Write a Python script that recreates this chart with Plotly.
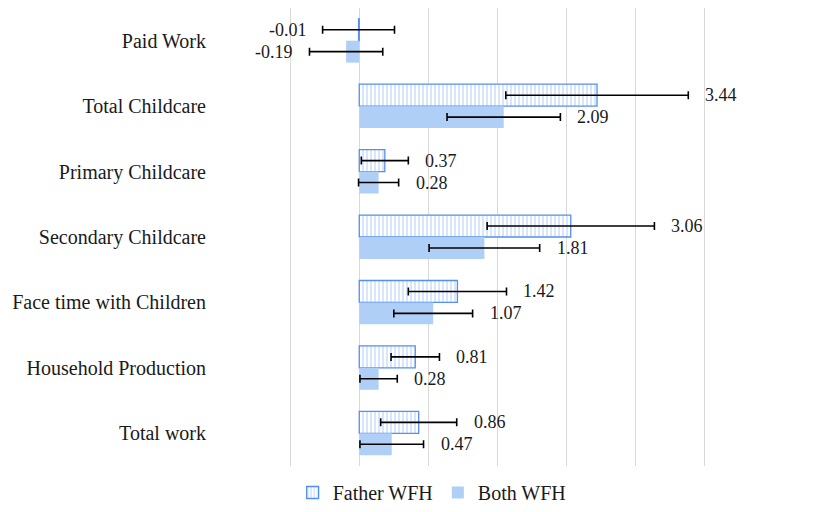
import plotly.graph_objects as go

categories = ["Paid Work", "Total Childcare", "Primary Childcare", "Secondary Childcare",
              "Face time with Children", "Household Production", "Total work"]
father_wfh = [-0.01, 3.44, 0.37, 3.06, 1.42, 0.81, 0.86]
both_wfh = [-0.19, 2.09, 0.28, 1.81, 1.07, 0.28, 0.47]
father_err = [0.52, 1.32, 0.34, 1.21, 0.71, 0.35, 0.55]
both_err = [0.53, 0.82, 0.29, 0.80, 0.57, 0.27, 0.46]

serif = "Liberation Serif"
FS_LAB = 18
FS_AX = 20

fig = go.Figure()
fig.add_trace(go.Bar(
    y=categories, x=father_wfh, orientation="h", name="Father WFH",
    marker=dict(color="white", line=dict(color="#5590EC", width=1.3),
                pattern=dict(shape="|", fgcolor="#A9C9F5", bgcolor="white", size=4, solidity=0.45)),
    error_x=dict(type="data", array=father_err, color="black", thickness=1.6, width=4),
))
fig.add_trace(go.Bar(
    y=categories, x=both_wfh, orientation="h", name="Both WFH",
    marker=dict(color="#B0CFF7", line=dict(width=0)),
    error_x=dict(type="data", array=both_err, color="black", thickness=1.6, width=4),
))

for vals, errs, ysh in [(father_wfh, father_err, 11), (both_wfh, both_err, -11)]:
    for cat, v, e in zip(categories, vals, errs):
        if v >= 0:
            fig.add_annotation(x=v + e, y=cat, text=f"{v:.2f}", showarrow=False,
                               xanchor="left", xshift=15, yshift=ysh,
                               font=dict(family=serif, size=FS_LAB, color="#1a1a1a"))
        else:
            fig.add_annotation(x=v - e, y=cat, text=f"{v:.2f}", showarrow=False,
                               xanchor="right", xshift=-14, yshift=ysh,
                               font=dict(family=serif, size=FS_LAB, color="#1a1a1a"))

fig.update_layout(
    width=830, height=504,
    margin=dict(l=213, r=64, t=0, b=46, autoexpand=False),
    paper_bgcolor="white", plot_bgcolor="white",
    barmode="group", bargap=0.33, bargroupgap=0,
    font=dict(family=serif, size=FS_AX, color="#1a1a1a"),
    legend=dict(orientation="h", xref="container", x=0.511, xanchor="center",
                yref="container", y=0.0, yanchor="bottom",
                font=dict(family=serif, size=FS_AX, color="#1a1a1a"), traceorder="normal",
                itemwidth=30),
    showlegend=True,
)
fig.update_xaxes(range=[-2, 6], dtick=1, showgrid=True, gridcolor="#D9D9D9", gridwidth=1.3,
                 showticklabels=False, zeroline=False, showline=False, ticks="")
fig.update_yaxes(autorange="reversed", showgrid=False, ticks="", ticklabelstandoff=14,
                 showline=False)

fig.write_html("out.html")
